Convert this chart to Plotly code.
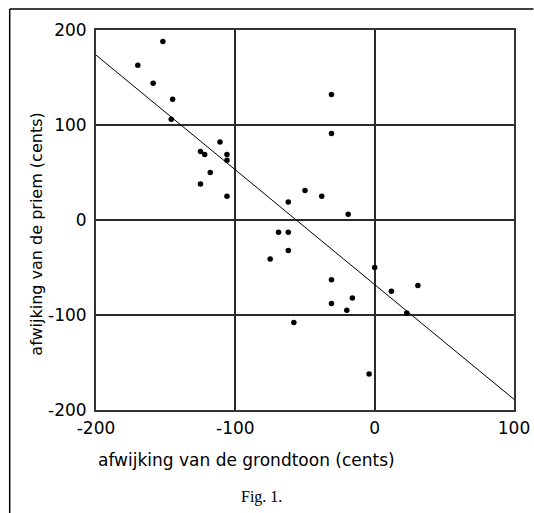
import plotly.graph_objects as go

# deviation of the fundamental (cents)
x_grondtoon = [-152, -170, -159, -145, -146, -111, -125, -122, -106, -106, -118, -125, -106, -62,
               -31, -31, -50, -38, -19, -69, -62, -62, -75, -58, 0, -31, 31, 12, -16, -31, -20, 23, -4]
# deviation of the prime (cents)
y_priem = [188, 163, 144, 127, 106, 82, 72, 69, 69, 63, 50, 38, 25, 19,
           132, 91, 31, 25, 6, -13, -13, -32, -41, -108, -50, -63, -69, -75, -82, -88, -95, -98, -162]

# regression line
fit_x = [-200, 100]
fit_intercept = -68.0
fit_slope = -1.208

tick_vals = [-200, -100, 0, 100, 200]
x_ticks = [-200, -100, 0, 100]

fit_y = [fit_intercept + fit_slope * v for v in fit_x]

FONT = "DejaVu Sans, Verdana, sans-serif"

fig = go.Figure()
fig.add_trace(go.Scatter(x=fit_x, y=fit_y, mode="lines",
                         line=dict(color="black", width=1), hoverinfo="skip"))
fig.add_trace(go.Scatter(x=x_grondtoon, y=y_priem, mode="markers",
                         marker=dict(color="black", size=5.5)))

axis_common = dict(showgrid=True, gridcolor="#2a2a2a", gridwidth=1.6, zeroline=False,
                   showline=True, linecolor="#333", linewidth=2, mirror=True, automargin=False,
                   ticks="", tickfont=dict(family=FONT, size=17, color="black"))

fig.update_xaxes(range=[-200, 100], tickvals=x_ticks, ticktext=[str(v) for v in x_ticks],
                 ticklabelstandoff=2, **axis_common)
fig.update_yaxes(range=[-200, 200], tickvals=tick_vals, ticktext=[str(v) for v in tick_vals],
                 ticklabelstandoff=4, **axis_common)

L, R, T, B = 95.5, 514.5, 30, 410
W, H = 534, 513
pw, ph = R - L, B - T

def px(xp):
    return (xp - L) / pw

def py(yp):
    return (B - yp) / ph

fig.update_layout(
    width=W, height=H,
    margin=dict(l=L, r=W - R, t=T, b=H - B, pad=0, autoexpand=False),
    paper_bgcolor="white", plot_bgcolor="white",
    showlegend=False,
    font=dict(family=FONT, color="black"),
    annotations=[
        dict(text="afwijking van de grondtoon (cents)", xref="paper", yref="paper",
             x=px(96), y=py(460), xanchor="left", yanchor="middle", showarrow=False,
             font=dict(size=17, family=FONT)),
        dict(text="afwijking van de priem (cents)", xref="paper", yref="paper",
             x=px(35), y=py(234), xanchor="center", yanchor="middle", textangle=-90,
             showarrow=False, font=dict(size=16, family=FONT)),
        dict(text="Fig. 1.", xref="paper", yref="paper",
             x=px(261), y=py(497), xanchor="center", yanchor="middle", showarrow=False,
             font=dict(size=16, family="Liberation Serif, Times New Roman, serif")),
    ],
    shapes=[
        dict(type="line", xref="paper", yref="paper", x0=px(9), x1=px(9), y0=py(9), y1=py(513),
             line=dict(color="black", width=1.5)),
        dict(type="line", xref="paper", yref="paper", x0=px(9), x1=px(534), y0=py(9), y1=py(9),
             line=dict(color="black", width=1.5)),
    ],
)

fig.write_html("out.html")
